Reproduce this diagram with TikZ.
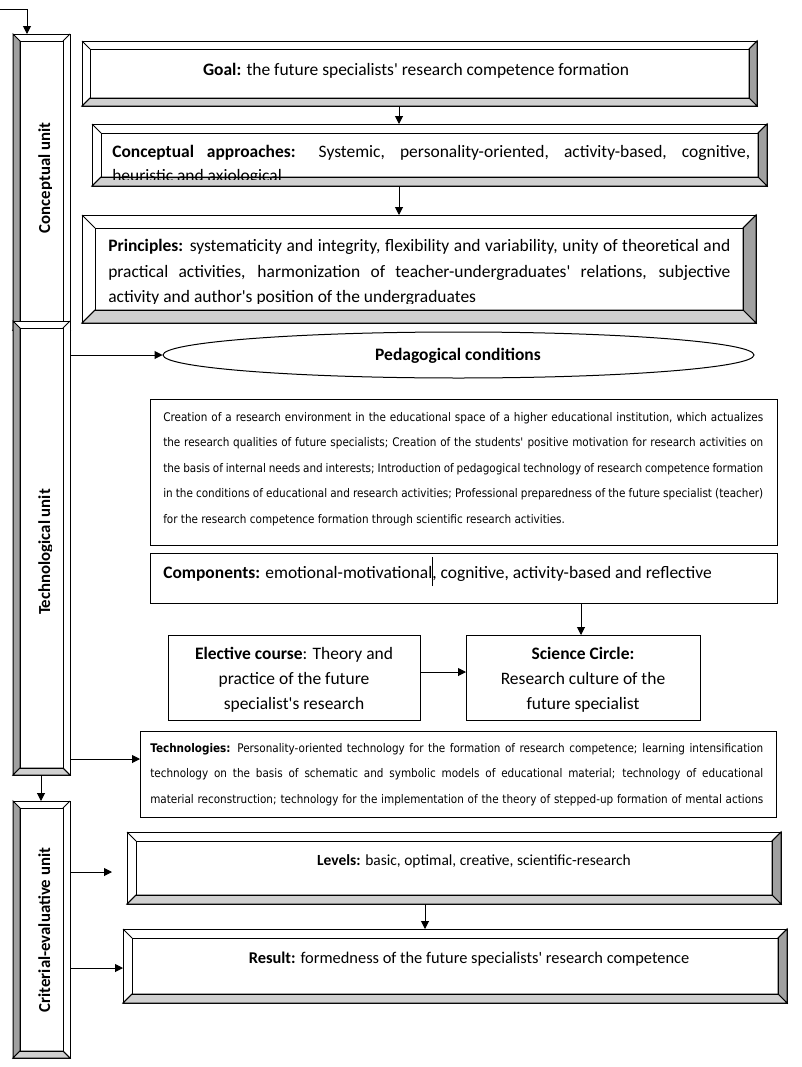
\documentclass[tikz,border=0pt]{standalone}
\usepackage{fontspec}
\setmainfont{Carlito}
\newfontfamily\smallfont[FakeStretch=0.88]{DejaVu Sans}
\usetikzlibrary{arrows.meta,shapes.geometric}
\definecolor{bevdark}{HTML}{A0A0A0}
\definecolor{bevlight}{HTML}{D0D0D0}
\newcommand\ap{\textquotesingle}
\tikzset{
  arr/.style={-{Triangle[length=6pt,width=6pt]}, line width=0.75pt},
  bevline/.style={line width=0.75pt},
  boxnode/.style={rectangle, inner sep=0pt, outer sep=0pt},
  plainbox/.style={draw, line width=0.75pt, fill=white, rectangle, inner sep=0pt, outer sep=0pt, anchor=north west},
  mtxt/.style={font=\fontsize{13.1}{16}\selectfont, inner sep=0pt},
  stxt/.style={font=\smallfont\fontsize{8.9}{11}\selectfont, inner sep=0pt, anchor=base west},
  unitlbl/.style={font=\fontsize{12.6}{15}\bfseries\selectfont, inner sep=0pt, rotate=90, anchor=base},
}
% horizontal bevelled box: name, x1, y1, x2, y2, bevel
\newcommand\bevbox[6]{%
  \filldraw[bevline,fill=white] (#2,#3) rectangle (#4,#5);
  \filldraw[bevline,fill=bevdark] (#4,#3) -- (#4,#5) -- ({#4-#6},{#5-#6}) -- ({#4-#6},{#3+#6}) -- cycle;
  \filldraw[bevline,fill=bevlight] (#2,#5) -- (#4,#5) -- ({#4-#6},{#5-#6}) -- ({#2+#6},{#5-#6}) -- cycle;
  \draw[bevline] (#2,#3) -- ({#2+#6},{#3+#6}) (#2,#5) -- ({#2+#6},{#5-#6}) (#4,#3) -- ({#4-#6},{#3+#6});
  \draw[bevline] ({#2+#6},{#3+#6}) rectangle ({#4-#6},{#5-#6});
  \node[boxnode, minimum width={(#4-#2)*0.75pt}, minimum height={(#5-#3)*0.75pt}] (#1) at ({(#2+#4)/2},{(#3+#5)/2}) {};
}
% vertical bevelled bar: name, x1, y1, x2, y2, bevel
\newcommand\bevbar[6]{%
  \filldraw[bevline,fill=white] (#2,#3) rectangle (#4,#5);
  \filldraw[bevline,fill=bevdark] (#2,#3) -- (#2,#5) -- ({#2+#6},{#5-#6}) -- ({#2+#6},{#3+#6}) -- cycle;
  \filldraw[bevline,fill=bevlight] (#2,#5) -- (#4,#5) -- ({#4-#6},{#5-#6}) -- ({#2+#6},{#5-#6}) -- cycle;
  \draw[bevline] (#4,#3) -- ({#4-#6},{#3+#6}) (#4,#5) -- ({#4-#6},{#5-#6});
  \draw[bevline] ({#2+#6},{#3+#6}) rectangle ({#4-#6},{#5-#6});
  \node[boxnode, minimum width={(#4-#2)*0.75pt}, minimum height={(#5-#3)*0.75pt}] (#1) at ({(#2+#4)/2},{(#3+#5)/2}) {};
}
\begin{document}
\begin{tikzpicture}[x=0.75pt,y=-0.75pt]
\useasboundingbox[fill=white] (0,0) rectangle (801,1067);

% ---- left unit bars ----
\bevbar{cbar}{13}{34}{70}{330}{7}
\bevbar{tbar}{13}{321}{70}{775}{7}
\bevbar{ebar}{13}{801}{70}{1058}{7}
\begin{scope}
  \clip (13,34) rectangle (51,321);
  \node[unitlbl] (lblc) at (50,178) {Conceptual unit};
\end{scope}
\begin{scope}
  \clip (13,328) rectangle (51,768);
  \node[unitlbl] (lblt) at (50,552) {Technological unit};
\end{scope}
\begin{scope}
  \clip (13,808) rectangle (51,1052);
  \node[unitlbl] (lble) at (50,930) {Criterial-evaluative unit};
\end{scope}

% ---- conceptual unit boxes ----
\bevbox{goal}{82}{41}{757}{106}{8}
\node[mtxt, anchor=base] (goaltxt) at (416,75) {\textbf{Goal:} the future specialists\ap{} research competence formation};

\bevbox{conc}{92}{124}{767}{186}{9}
\begin{scope}
  \clip (101,133) rectangle (758,179);
  \node[mtxt, anchor=base west] (conc1) at (112,157) {\makebox[478.5pt][s]{\textbf{Conceptual approaches:} Systemic, personality-oriented, activity-based, cognitive,}};
  \node[mtxt, anchor=base west] (conc2) at (112,181) {heuristic and axiological};
\end{scope}

\bevbox{prin}{82}{215}{756}{323}{13}
\begin{scope}
  \clip (95,228) rectangle (743,303);
  \node[mtxt, anchor=base west] (prin1) at (108,251) {\makebox[466.5pt][s]{\textbf{Principles:} systematicity and integrity, flexibility and variability, unity of theoretical and}};
  \node[mtxt, anchor=base west] (prin2) at (108,277) {\makebox[466.5pt][s]{practical activities, harmonization of teacher-undergraduates\ap{} relations, subjective}};
  \node[mtxt, anchor=base west] (prin3) at (108,302) {activity and author\ap{}s position of the undergraduates};
\end{scope}

% ---- technological unit ----
\node[ellipse, draw, line width=0.75pt, fill=white, inner sep=0pt, minimum width=443.25pt, minimum height=34.5pt] (cond) at (458.5,355) {};
\node[mtxt, anchor=base] (condtxt) at (458,360) {\textbf{Pedagogical conditions}};

\node[plainbox, minimum width=470.25pt, minimum height=109.5pt] (crea) at (150,399) {};
\node[stxt] (crea1) at (163,421) {\makebox[450pt][s]{Creation of a research environment in the educational space of a higher educational institution, which actualizes}};
\node[stxt] (crea2) at (163,446) {\makebox[450pt][s]{the research qualities of future specialists; Creation of the students\ap{} positive motivation for research activities on}};
\node[stxt] (crea3) at (163,472) {\makebox[450pt][s]{the basis of internal needs and interests; Introduction of pedagogical technology of research competence formation}};
\node[stxt] (crea4) at (163,497) {\makebox[450pt][s]{in the conditions of educational and research activities; Professional preparedness of the future specialist (teacher)}};
\node[stxt] (crea5) at (163,523) {for the research competence formation through scientific research activities.};

\node[plainbox, minimum width=470.25pt, minimum height=37.5pt] (comp) at (150,553) {};
\node[mtxt, anchor=base west] (comptxt) at (163,578) {\textbf{Components:} emotional-motivational\rlap{\rule[-6pt]{0.5pt}{22pt}}, cognitive, activity-based and reflective};

\node[plainbox, minimum width=189pt, minimum height=63.75pt] (elec) at (168,635) {};
\node[mtxt, anchor=base] (elec1) at (294,659) {\textbf{Elective course}: Theory and};
\node[mtxt, anchor=base] (elec2) at (294,684) {practice of the future};
\node[mtxt, anchor=base] (elec3) at (294,709) {specialist\ap{}s research};

\node[plainbox, minimum width=175.5pt, minimum height=63.75pt] (sci) at (466,635) {};
\node[mtxt, anchor=base] (sci1) at (583,659) {\textbf{Science Circle:}};
\node[mtxt, anchor=base] (sci2) at (583,684) {Research culture of the};
\node[mtxt, anchor=base] (sci3) at (583,709) {future specialist};

\node[plainbox, minimum width=477pt, minimum height=64.5pt] (tech) at (140,731) {};
\node[stxt] (tech1) at (150,752.5) {\makebox[459.75pt][s]{\textbf{Technologies:} Personality-oriented technology for the formation of research competence; learning intensification}};
\node[stxt] (tech2) at (150,777.5) {\makebox[459.75pt][s]{technology on the basis of schematic and symbolic models of educational material; technology of educational}};
\node[stxt] (tech3) at (150,803.5) {\makebox[459.75pt][s]{material reconstruction; technology for the implementation of the theory of stepped-up formation of mental actions}};

% ---- criterial-evaluative unit ----
\bevbox{lev}{127}{832}{781}{904}{9}
\node[mtxt, font=\fontsize{11.6}{14}\selectfont, anchor=base] (levtxt) at (474,865) {\textbf{Levels:} basic, optimal, creative, scientific-research};

\bevbox{res}{123}{929}{787}{1003}{9}
\node[mtxt, font=\fontsize{12.3}{15}\selectfont, anchor=base] (restxt) at (469,963) {\textbf{Result:} formedness of the future specialists\ap{} research competence};

% ---- connectors ----
\coordinate (start) at (0,9);
\coordinate (entry) at (27,34);
\draw[arr] (start) -| (entry);

\coordinate (ax1) at (399,0);
\draw[arr] (goal.south -| ax1) -- (conc.north -| ax1);
\draw[arr] (conc.south -| ax1) -- (prin.north -| ax1);

\draw[arr] (tbar.east |- cond.west) -- (cond.west);
\coordinate (ty) at (0,759);
\draw[arr] (tbar.east |- ty) -- (tech.west |- ty);
\coordinate (bx) at (41,0);
\draw[arr] (tbar.south -| bx) -- (ebar.north -| bx);

\coordinate (lvin) at (112,872);
\draw[arr] (ebar.east |- lvin) -- (lvin);
\coordinate (ry) at (0,968);
\draw[arr] (ebar.east |- ry) -- (res.west |- ry);

\coordinate (ax2) at (425,0);
\draw[arr] (lev.south -| ax2) -- (res.north -| ax2);

\coordinate (ax3) at (581,0);
\draw[arr] (comp.south -| ax3) -- (sci.north -| ax3);
\coordinate (ey) at (0,672);
\draw[arr] (elec.east |- ey) -- (sci.west |- ey);
\end{tikzpicture}
\end{document}
